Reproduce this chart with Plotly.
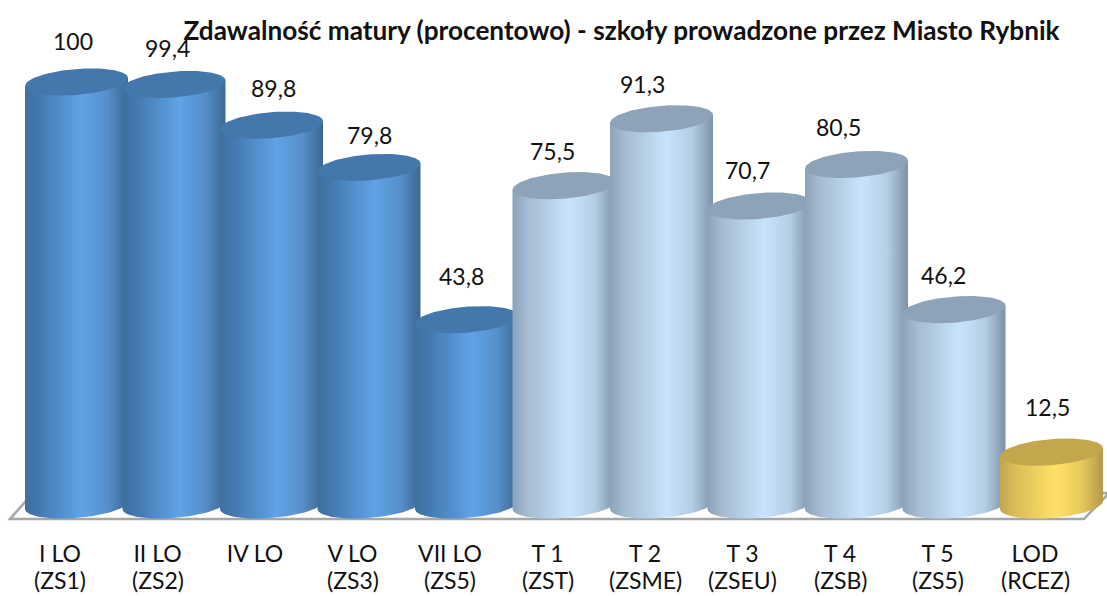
import numpy as np
import plotly.graph_objects as go

# --- data -------------------------------------------------------------
school_names = ["I LO", "II LO", "IV LO", "V LO", "VII LO", "T 1", "T 2", "T 3", "T 4", "T 5", "LOD"]
school_codes = ["(ZS1)", "(ZS2)", "", "(ZS3)", "(ZS5)", "(ZST)", "(ZSME)", "(ZSEU)", "(ZSB)", "(ZS5)", "(RCEZ)"]
pass_rates = [100, 99.4, 89.8, 79.8, 43.8, 75.5, 91.3, 70.7, 80.5, 46.2, 12.5]
rate_labels = ["100", "99,4", "89,8", "79,8", "43,8", "75,5", "91,3", "70,7", "80,5", "46,2", "12,5"]
school_groups = ["lo", "lo", "lo", "lo", "lo", "t", "t", "t", "t", "t", "lod"]
# manual nudges of the value labels, in pixels
label_dx = [-4, -7, 2, 0, -5, -12, -19, -12, -18, -11, -4]
label_dy = [41, 37, 37, 32, 44, 35, 35, 36, 37, 35, 45]

# --- styles -----------------------------------------------------------
W, H = 1107, 596
PLOT_H = 530
PX_X0, PX_STEP = 60.0, 97.5
PX_Y0, PX_UNIT = 505.0, 4.23
CYL_SHIFT = 16.5 / PX_STEP
A = 51.5 / PX_STEP      # half width, x axis units
B = 13.0 / PX_UNIT      # half height of ellipse, y axis units
TILT = 4.0 / PX_UNIT    # rise of the ellipse's right end, y axis units
FONT = "Lato"
TEXT = "#111111"
STYLES = {
    "lo": dict(cap="#4477ab", scale=[[0, "#3f6f9f"], [0.12, "#4377ad"], [0.55, "#5fa3e6"], [0.8, "#568fc9"], [1, "#3b6893"]]),
    "t": dict(cap="#8ea3b8", scale=[[0, "#8ca2b8"], [0.15, "#a5bcd2"], [0.55, "#c8e4fc"], [0.8, "#b3cde4"], [1, "#7f92a5"]]),
    "lod": dict(cap="#c4a64c", scale=[[0, "#c3a54e"], [0.15, "#dcbc58"], [0.55, "#ffe168"], [0.8, "#e6c75a"], [1, "#b4974a"]]),
}


def ellipse(cx, cy, t):
    return cx + A * np.cos(t), cy + B * np.sin(t) + TILT * np.cos(t)


fig = go.Figure()
t_low = np.linspace(0, np.pi, 60)   # y grows upward: pi..2pi is the lower half
t_full = np.linspace(0, 2 * np.pi, 120)
for i, (v, g) in enumerate(zip(pass_rates, school_groups)):
    cx = i + CYL_SHIFT
    bx, by = ellipse(cx, 0, np.pi + t_low)      # base: left -> bottom -> right
    tx, ty = ellipse(cx, v, t_low[[0, -1]])     # top chord: right -> left
    fig.add_trace(go.Scatter(
        x=np.r_[bx, tx], y=np.r_[by, ty], mode="lines", line=dict(width=0),
        fill="toself", fillcolor=STYLES[g]["scale"][2][1],
        fillgradient=dict(type="horizontal", colorscale=STYLES[g]["scale"]),
        hoverinfo="skip", showlegend=False))
    cxs, cys = ellipse(cx, v, t_full)
    fig.add_trace(go.Scatter(
        x=cxs, y=cys, mode="lines", line=dict(width=0), fill="toself",
        fillcolor=STYLES[g]["cap"], hoverinfo="skip", showlegend=False))


annotations = []
for i, (v, txt, dx, dy, code) in enumerate(zip(pass_rates, rate_labels, label_dx, label_dy, school_codes)):
    annotations.append(dict(x=i + CYL_SHIFT, y=v, xref="x", yref="y", text=txt, showarrow=False,
                            xshift=dx, yshift=dy, font=dict(family=FONT, size=23, color=TEXT),
                            xanchor="center", yanchor="middle"))
    if code:
        annotations.append(dict(x=i, y=1 - 580 / PLOT_H, xref="x", yref="paper", text=code, showarrow=False,
                                font=dict(family=FONT, size=23, color=TEXT),
                                xanchor="center", yanchor="middle"))


def fx(px):
    return px / W


def fy(py):
    return 1 - py / PLOT_H


floor = (f"M {fx(10)} {fy(519)} L {fx(1084)} {fy(519)} L {fx(1109)} {fy(493)} L {fx(33)} {fy(493)} Z")
fig.update_layout(
    width=W, height=H, margin=dict(l=0, r=0, t=0, b=H - PLOT_H, pad=0),
    paper_bgcolor="white", plot_bgcolor="rgba(0,0,0,0)", showlegend=False,
    font=dict(family=FONT, size=23, color=TEXT),
    title=dict(text="<b>Zdawalność matury (procentowo) - szkoły prowadzone przez Miasto Rybnik</b>",
               x=621.5 / W, y=1 - 31 / H, xanchor="center", yanchor="middle", xref="paper", yref="container",
               font=dict(family=FONT, size=26.2, color=TEXT)),
    xaxis=dict(range=[-PX_X0 / PX_STEP, (W - PX_X0) / PX_STEP], tickmode="array",
               tickvals=list(range(len(school_names))), ticktext=school_names,
               showgrid=False, zeroline=False, showline=False, ticks="", ticklabelstandoff=8,
               tickfont=dict(family=FONT, size=23, color=TEXT), fixedrange=True),
    yaxis=dict(range=[(PX_Y0 - PLOT_H) / PX_UNIT, PX_Y0 / PX_UNIT], visible=False, fixedrange=True),
    shapes=[dict(type="path", path=floor, xref="paper", yref="paper", fillcolor="white",
                 line=dict(color="#a6a6a6", width=2.5), layer="below")],
    annotations=annotations,
)
fig.write_html("out.html", post_script="document.body.style.margin='0';", config={"displayModeBar": False})
